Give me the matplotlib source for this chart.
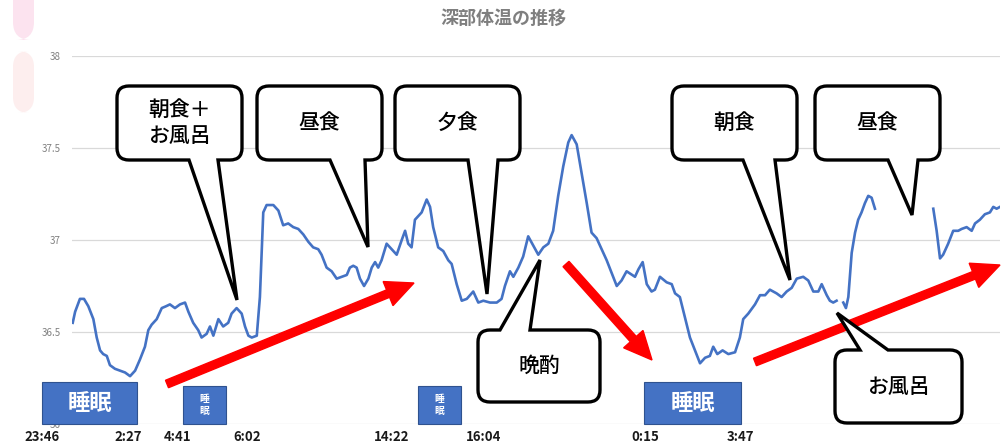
import numpy as np
import matplotlib
matplotlib.use("Agg")
import matplotlib.pyplot as plt
from matplotlib.path import Path
from matplotlib.patches import PathPatch, FancyArrow, Rectangle, FancyBboxPatch

plt.rcParams['font.family'] = ['Noto Sans CJK JP', 'DejaVu Sans']

# elapsed hours since 23:46 and core body temperature (NaN = no data)
hours = [0.03, 0.13, 0.33, 0.50, 0.68, 0.89, 1.03, 1.17, 1.30, 1.45, 1.58, 1.79, 2.00, 2.21, 2.42,
         2.63, 2.83, 3.04, 3.18, 3.32, 3.53, 3.74, 3.92, 4.08, 4.29, 4.50, 4.71, 4.85, 5.05, 5.26,
         5.40, 5.61, 5.75, 5.89, 6.10, 6.30, 6.51, 6.65, 6.86, 7.07, 7.21, 7.35, 7.49, 7.70, 7.83,
         7.97, 8.11, 8.39, 8.60, 8.80, 9.01, 9.22, 9.43, 9.64, 9.85, 10.05, 10.26, 10.40, 10.61, 10.82,
         11.03, 11.24, 11.45, 11.58, 11.72, 11.86, 12.00, 12.17, 12.35, 12.49, 12.63, 12.76, 12.90,
         13.11, 13.32, 13.53, 13.74, 13.88, 14.01, 14.15, 14.29, 14.43, 14.57, 14.78, 14.92, 15.05,
         15.26, 15.47, 15.68, 15.82, 16.03, 16.24, 16.45, 16.72, 16.93, 17.14, 17.42, 17.70, 17.90,
         18.04, 18.25, 18.39, 18.60, 18.80, 19.01, 19.22, 19.43, 19.64, 19.85, 20.05, 20.26, 20.47,
         20.68, 20.82, 21.03, 21.24, 21.45, 21.65, 21.86, 22.07, 22.28, 22.49, 22.70, 22.90, 23.11,
         23.46, 23.60, 23.78, 23.95, 24.15, 24.29, 24.50, 24.78, 24.99, 25.13, 25.33, 25.54, 25.75,
         25.96, 26.17, 26.38, 26.58, 26.72, 26.89, 27.11, 27.35, 27.63, 27.83, 27.97, 28.18, 28.46,
         28.67, 28.88, 29.08, 29.36, 29.57, 29.78, 29.99, 30.20, 30.47, 30.68, 30.89, 31.10, 31.24,
         31.45, 31.58, 31.72, 31.86, 32.00, 32.14, 32.25, 32.35, 32.49, 32.63, 32.76, 32.90, 33.04,
         33.18, 33.32, 33.46, 34.50, 35.89, 36.03, 36.17, 36.30, 36.51, 36.72, 36.93, 37.07, 37.28,
         37.49, 37.63, 37.83, 38.04, 38.25, 38.39, 38.53, 38.67]
temp = [36.55, 36.61, 36.68, 36.68, 36.64, 36.57, 36.47, 36.40, 36.38, 36.37, 36.32, 36.30, 36.29, 36.28, 36.26,
        36.29, 36.35, 36.42, 36.51, 36.54, 36.57, 36.63, 36.64, 36.65, 36.63, 36.65, 36.66, 36.61, 36.55, 36.51,
        36.47, 36.49, 36.53, 36.48, 36.57, 36.53, 36.55, 36.60, 36.63, 36.60, 36.53, 36.48, 36.47, 36.48, 36.69,
        37.15, 37.19, 37.19, 37.16, 37.08, 37.09, 37.07, 37.06, 37.03, 36.99, 36.96, 36.95, 36.92, 36.85, 36.83,
        36.79, 36.80, 36.81, 36.85, 36.86, 36.85, 36.79, 36.75, 36.79, 36.85, 36.88, 36.85, 36.89,
        36.98, 36.95, 36.92, 37.00, 37.05, 36.98, 36.96, 37.11, 37.13, 37.15, 37.22, 37.18, 37.07,
        36.96, 36.94, 36.89, 36.87, 36.76, 36.67, 36.68, 36.72, 36.66, 36.67, 36.66, 36.66, 36.68,
        36.75, 36.83, 36.80, 36.85, 36.91, 37.02, 36.97, 36.92, 36.96, 36.98, 37.05, 37.24, 37.40,
        37.53, 37.57, 37.52, 37.36, 37.20, 37.04, 37.01, 36.95, 36.89, 36.82, 36.75, 36.78, 36.83,
        36.80, 36.84, 36.88, 36.76, 36.72, 36.73, 36.80, 36.77, 36.76, 36.71, 36.69, 36.58, 36.47,
        36.40, 36.33, 36.36, 36.37, 36.42, 36.38, 36.40, 36.38, 36.39, 36.47, 36.57, 36.60, 36.65,
        36.70, 36.70, 36.73, 36.71, 36.69, 36.72, 36.74, 36.79, 36.80, 36.78, 36.72, 36.72, 36.76,
        36.70, 36.67, 36.66, 36.67, np.nan, 36.66, 36.63, 36.69, 36.93, 37.04, 37.11, 37.15, 37.20,
        37.24, 37.23, 37.17, np.nan, 37.17, 37.05, 36.90, 36.92, 36.98, 37.05, 37.05, 37.06, 37.07,
        37.05, 37.09, 37.11, 37.14, 37.15, 37.18, 37.17, 37.18]

y_ticks = [36, 36.5, 37, 37.5, 38]
y_labels = ['36', '36.5', '37', '37.5', '38']

# callouts: text, box (left, top, right, bottom px), pointer base, tip, side
callouts = [
    ("朝食＋\nお風呂", (117, 86, 242, 160), (189, 218), (237, 300), 'bottom'),
    ("昼食", (257, 86, 382, 160), (330, 365), (368, 247), 'bottom'),
    ("夕食", (395, 86, 520, 160), (468, 498), (487, 294), 'bottom'),
    ("晩酌", (478, 330, 600, 402), (500, 530), (540, 260), 'top'),
    ("朝食", (672, 86, 797, 160), (743, 775), (790, 280), 'bottom'),
    ("昼食", (815, 86, 940, 160), (888, 918), (912, 215), 'bottom'),
    ("お風呂", (835, 350, 962, 423), (860, 888), (837, 313), 'top'),
]
sleep_boxes = [(42, 382, 137, 424, "睡眠", True), (183, 386, 226, 424, "睡\n眠", False),
               (418, 386, 461, 424, "睡\n眠", False), (644, 382, 741, 424, "睡眠", True)]
time_labels = [("23:46", 42), ("2:27", 128), ("4:41", 178), ("6:02", 247), ("14:22", 392),
               ("16:04", 484), ("0:15", 645), ("3:47", 740)]
red_arrows = [((167, 384), (414, 283)), ((566, 264), (652, 360)), ((755, 362), (1000, 265))]

fig = plt.figure(figsize=(10.06, 4.46), dpi=100)
ax = fig.add_axes([72 / 1006, 1 - 424 / 446, 928 / 1006, 368 / 446])
ax.plot(hours, temp, color='#4472C4', lw=1.9)
ax.set_xlim(0, 38.67)
ax.set_ylim(36, 38)
ax.set_yticks(y_ticks)
ax.set_yticklabels(y_labels)
ax.set_xticks([])
ax.grid(axis='y', color='#d9d9d9', lw=0.9)
ax.tick_params(axis='y', length=0, pad=8, labelsize=7, labelcolor='#7f7f7f')
for s in ax.spines.values():
    s.set_visible(False)

fig.text(503 / 1006, 1 - 18 / 446, "深部体温の推移", ha='center', va='center',
         fontsize=13, color='#7f7f7f', fontweight='bold')

# overlay in pixel units for the drawn annotations
ov = fig.add_axes([0, 0, 1, 1])
ov.set_xlim(0, 1006)
ov.set_ylim(446, 0)
ov.axis('off')
ov.patch.set_alpha(0)

# pink decoration top-left
ov.add_patch(FancyBboxPatch((13, -20), 21, 60, boxstyle="round,pad=0,rounding_size=18",
                            fc='#fce3ef', ec='none'))
ov.add_patch(FancyBboxPatch((13, 51), 21, 62, boxstyle="round,pad=0,rounding_size=16",
                            fc='#fdeeee', ec='none'))

for (x0, y0), (x1, y1) in red_arrows:
    ov.add_patch(FancyArrow(x0, y0, x1 - x0, y1 - y0, width=8, head_width=26, head_length=28,
                            length_includes_head=True, color='#ff0000', zorder=3))


def bubble(text, box, base, tip, side, r=12):
    x0, y0, x1, y1 = box
    v = [(x0 + r, y0)]
    c = [Path.MOVETO]
    if side == 'top':
        v += [(base[0], y0), tip, (base[1], y0)]
        c += [Path.LINETO] * 3
    v += [(x1 - r, y0), (x1, y0), (x1, y0 + r), (x1, y1 - r), (x1, y1), (x1 - r, y1)]
    c += [Path.LINETO, Path.CURVE3, Path.CURVE3, Path.LINETO, Path.CURVE3, Path.CURVE3]
    if side == 'bottom':
        v += [(base[1], y1), tip, (base[0], y1)]
        c += [Path.LINETO] * 3
    v += [(x0 + r, y1), (x0, y1), (x0, y1 - r), (x0, y0 + r), (x0, y0), (x0 + r, y0), (x0 + r, y0)]
    c += [Path.LINETO, Path.CURVE3, Path.CURVE3, Path.LINETO, Path.CURVE3, Path.CURVE3, Path.CLOSEPOLY]
    ov.add_patch(PathPatch(Path(v, c), fc='white', ec='black', lw=2.4, joinstyle='miter', zorder=5))
    ov.text((x0 + x1) / 2, (y0 + y1) / 2, text, ha='center', va='center', fontsize=15,
            fontweight='medium', linespacing=1.25, color='black', zorder=6)


for t, box, base, tip, side in callouts:
    bubble(t, box, base, tip, side)

for x0, y0, x1, y1, t, big in sleep_boxes:
    ov.add_patch(Rectangle((x0, y0), x1 - x0, y1 - y0, fc='#4472C4', ec='#2f528f', lw=0.8, zorder=4))
    ov.text((x0 + x1) / 2, (y0 + y1) / 2, t, ha='center', va='center', color='white',
            fontsize=16 if big else 7, fontweight='bold', linespacing=1.3, zorder=6)

for t, x in time_labels:
    ov.text(x, 437, t, ha='center', va='center', fontsize=9.5, fontweight='bold', color='#1a1a1a', zorder=3)

fig.savefig("out.png", dpi=100)
